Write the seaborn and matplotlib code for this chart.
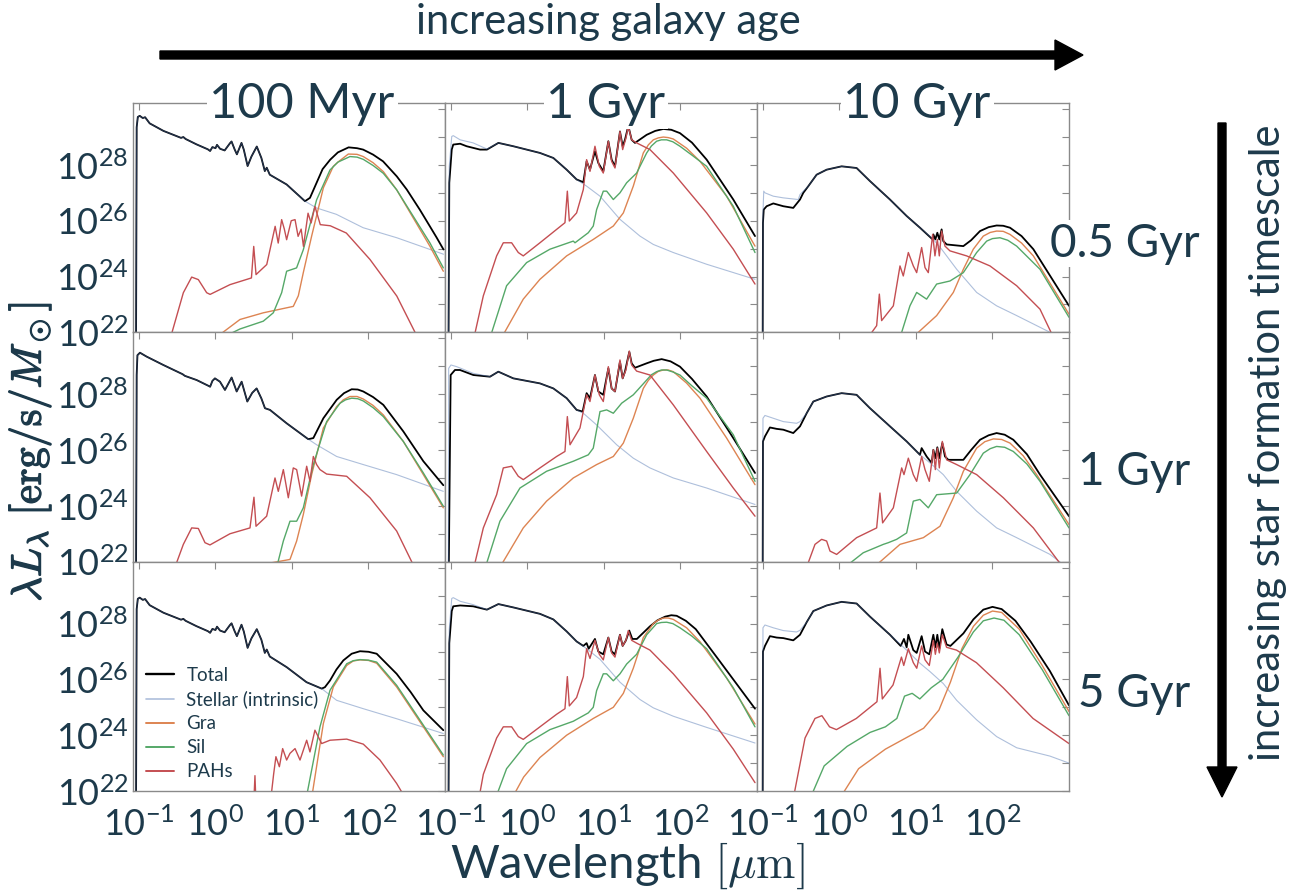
import numpy as np
import seaborn as sns
import matplotlib
matplotlib.use("Agg")
import matplotlib.pyplot as plt
from matplotlib.patches import FancyArrow
from matplotlib.lines import Line2D
from matplotlib.ticker import FixedLocator, FuncFormatter, LogLocator, NullFormatter, NullLocator
from matplotlib import patheffects

# Spectral energy distributions per unit stellar mass.
# Each curve: (log10 wavelength [um], log10 lambda*L_lambda [erg/s/Msun]).
# Rows: star formation timescale (t05 = 0.5 Gyr, t1 = 1 Gyr, t5 = 5 Gyr)
# Columns: galaxy age (a01 = 100 Myr, a1 = 1 Gyr, a10 = 10 Gyr)

AGES = ["100 Myr", "1 Gyr", "10 Gyr"]
TAUS = ["0.5 Gyr", "1 Gyr", "5 Gyr"]

# ---------------- tau = 0.5 Gyr, age = 100 Myr ----------------
stellar_t05_a01 = [(-1.04, 20.0), (-1.03, 29.35), (-1.015, 29.72), (-0.99, 29.76), (-0.95, 29.68), (-0.92, 29.71),
                   (-0.86, 29.49), (-0.68, 29.22), (-0.45, 28.97), (-0.42, 29.00), (-0.39, 28.93), (-0.25, 28.74),
                   (-0.10, 28.56), (-0.07, 28.50), (-0.04, 28.64), (0.00, 28.60), (0.02, 28.72), (0.06, 28.58),
                   (0.12, 28.52), (0.19, 28.78), (0.21, 28.84), (0.25, 28.56), (0.28, 28.38), (0.34, 28.79),
                   (0.37, 28.55), (0.42, 27.96), (0.47, 28.30), (0.54, 28.66), (0.60, 28.25), (0.645, 27.78),
                   (0.67, 27.90), (0.71, 27.65), (0.93, 27.30), (1.17, 26.70), (1.32, 26.46), (1.58, 26.23),
                   (1.93, 25.75), (2.37, 25.39), (2.98, 24.80)]
total_ir_t05_a01 = [(1.235, 26.82), (1.32, 27.35), (1.40, 27.85), (1.50, 28.19), (1.60, 28.45), (1.74, 28.63),
                    (1.85, 28.60), (1.93, 28.55), (2.06, 28.37), (2.19, 28.13), (2.37, 27.59), (2.50, 27.12),
                    (2.67, 26.40), (2.80, 25.81), (2.89, 25.40), (2.98, 24.97)]
gra_t05_a01 = [(0.0, 21.8), (0.32, 22.46), (0.625, 22.70), (1.017, 22.93), (1.083, 23.31), (1.148, 24.14),
               (1.257, 25.45), (1.41, 27.18), (1.54, 27.95), (1.60, 28.10), (1.736, 28.39), (1.85, 28.38),
               (1.932, 28.30), (2.06, 28.08), (2.194, 27.76), (2.368, 27.11), (2.804, 25.08), (2.978, 24.19)]
sil_t05_a01 = [(0.08, 21.8), (0.32, 22.12), (0.625, 22.40), (0.756, 22.70), (0.865, 23.42), (0.93, 24.19),
               (1.06, 24.31), (1.148, 24.96), (1.322, 26.75), (1.497, 27.82), (1.60, 28.10), (1.758, 28.30),
               (1.85, 28.28), (1.932, 28.20), (2.06, 27.98), (2.194, 27.70), (2.368, 27.11), (2.804, 25.20),
               (2.978, 24.31)]
pah_t05_a01 = [(-0.62, 21.5), (-0.42, 23.42), (-0.311, 23.98), (-0.224, 23.89), (-0.115, 23.42), (-0.07, 23.36),
               (0.19, 23.71), (0.47, 23.95), (0.50, 25.08), (0.53, 24.07), (0.67, 24.43), (0.78, 25.80),
               (0.82, 25.20), (0.865, 26.04), (0.90, 25.70), (0.93, 25.32), (0.99, 26.00), (1.04, 26.04),
               (1.08, 25.44), (1.12, 25.70), (1.15, 25.08), (1.21, 26.27), (1.25, 25.92), (1.30, 26.51),
               (1.37, 25.86), (1.50, 25.82), (1.71, 25.56), (2.02, 24.61), (2.37, 23.30), (2.70, 21.5)]

# ---------------- tau = 0.5 Gyr, age = 1 Gyr ----------------
stellar_t05_a1 = [(-1.035, 20.0), (-1.022, 27.95), (-0.99, 29.02), (-0.97, 29.05), (-0.88, 28.90), (-0.71, 28.79),
                  (-0.53, 28.57), (-0.38, 28.79), (-0.185, 28.67), (0.163, 28.43), (0.338, 28.25), (0.512, 27.83),
                  (0.642, 27.48), (0.773, 27.24), (0.948, 26.88), (1.209, 26.05), (1.47, 25.45), (1.645, 25.15),
                  (1.906, 24.86), (2.342, 24.44), (2.974, 23.90)]
total_t05_a1 = [(-1.035, 20.0), (-1.022, 27.36), (-0.99, 28.55), (-0.97, 28.73), (-0.88, 28.76), (-0.795, 28.67),
                (-0.62, 28.55), (-0.53, 28.55), (-0.38, 28.79), (-0.185, 28.67), (0.163, 28.43), (0.338, 28.25),
                (0.512, 27.83), (0.642, 27.48), (0.73, 27.38), (0.773, 28.13), (0.817, 27.83), (0.882, 28.49),
                (0.926, 28.07), (0.991, 27.77), (1.057, 28.85), (1.10, 28.19), (1.144, 27.95), (1.209, 29.20),
                (1.244, 28.67), (1.274, 28.90), (1.318, 29.40), (1.362, 28.90), (1.405, 28.79), (1.558, 29.08),
                (1.67, 29.22), (1.776, 29.29), (1.88, 29.26), (1.993, 29.14), (2.15, 28.80), (2.342, 28.19),
                (2.69, 26.76), (2.974, 25.45)]
gra_t05_a1 = [(-0.34, 21.8), (-0.055, 23.19), (0.163, 23.90), (0.512, 24.74), (0.86, 25.33), (1.122, 25.81),
              (1.253, 26.28), (1.383, 27.24), (1.514, 28.43), (1.58, 28.72), (1.645, 28.90), (1.71, 28.97),
              (1.776, 29.00), (1.84, 28.98), (1.906, 28.93), (2.08, 28.60), (2.255, 28.13), (2.603, 26.88),
              (2.974, 25.09)]
sil_t05_a1 = [(-0.49, 21.8), (-0.273, 23.67), (-0.011, 24.50), (0.294, 24.98), (0.599, 25.27), (0.621, 25.21),
              (0.795, 25.57), (0.86, 25.81), (0.904, 26.40), (0.991, 27.06), (1.035, 27.06), (1.122, 26.76),
              (1.209, 27.00), (1.296, 27.36), (1.427, 27.71), (1.558, 28.43), (1.62, 28.68), (1.688, 28.85),
              (1.75, 28.90), (1.819, 28.90), (1.90, 28.83), (1.993, 28.67), (2.15, 28.35), (2.342, 27.95),
              (2.69, 26.52), (2.974, 24.86)]
pah_t05_a1 = [(-0.70, 21.8), (-0.577, 23.31), (-0.403, 24.74), (-0.316, 25.21), (-0.207, 25.21), (-0.12, 24.86),
              (-0.055, 24.74), (0.163, 25.21), (0.381, 25.69), (0.49, 25.93), (0.521, 27.06), (0.547, 25.99),
              (0.642, 26.28), (0.73, 27.12), (0.773, 28.19), (0.817, 27.77), (0.882, 28.67), (0.939, 27.95),
              (0.991, 27.71), (1.057, 28.85), (1.10, 28.13), (1.144, 27.89), (1.209, 29.20), (1.244, 28.55),
              (1.287, 28.96), (1.318, 29.38), (1.362, 28.90), (1.427, 28.79), (1.601, 28.55), (1.906, 27.71),
              (2.342, 26.28), (2.69, 24.98), (2.974, 23.73)]

# ---------------- tau = 0.5 Gyr, age = 10 Gyr ----------------
stellar_t05_a10 = [(-1.005, 20.0), (-1.0, 26.28), (-0.99, 27.06), (-0.974, 27.00), (-0.865, 26.88), (-0.734, 26.82),
                   (-0.538, 26.76), (-0.516, 26.94), (-0.407, 27.24), (-0.299, 27.65), (-0.168, 27.83),
                   (0.028, 27.95), (0.224, 27.89), (0.399, 27.42), (0.66, 26.76), (0.878, 26.17), (1.052, 25.75),
                   (1.227, 25.33), (1.335, 24.98), (1.532, 24.26), (1.793, 23.43), (2.054, 22.95), (2.316, 22.60),
                   (2.752, 22.0), (2.9, 21.8)]
total_t05_a10 = [(-1.005, 20.0), (-1.0, 25.93), (-0.99, 26.40), (-0.952, 26.52), (-0.865, 26.62), (-0.734, 26.52),
                 (-0.604, 26.46), (-0.516, 26.76), (-0.473, 27.00), (-0.407, 27.24), (-0.299, 27.65),
                 (-0.168, 27.83), (0.028, 27.95), (0.224, 27.89), (0.399, 27.42), (0.66, 26.76), (0.878, 26.17),
                 (1.052, 25.75), (1.218, 25.33), (1.227, 25.51), (1.253, 25.33), (1.279, 25.57), (1.305, 25.33),
                 (1.335, 25.69), (1.357, 25.27), (1.401, 25.15), (1.619, 25.09), (1.72, 25.30), (1.837, 25.63),
                 (1.95, 25.77), (2.054, 25.83), (2.14, 25.82), (2.229, 25.75), (2.38, 25.45), (2.534, 24.98),
                 (3.0, 22.95)]
gra_t05_a10 = [(0.95, 21.8), (1.27, 22.60), (1.488, 23.43), (1.619, 24.26), (1.749, 24.98), (1.88, 25.45),
               (1.97, 25.58), (2.054, 25.63), (2.14, 25.62), (2.229, 25.51), (2.38, 25.20), (2.534, 24.74),
               (3.0, 22.65)]
sil_t05_a10 = [(0.79, 21.8), (0.921, 22.95), (1.009, 23.43), (1.139, 23.19), (1.27, 23.73), (1.444, 23.84),
               (1.619, 24.14), (1.793, 24.86), (1.924, 25.27), (2.0, 25.36), (2.098, 25.39), (2.20, 25.30),
               (2.316, 25.09), (2.621, 24.26), (3.0, 22.54)]
pah_t05_a10 = [(0.37, 21.8), (0.486, 22.24), (0.521, 23.37), (0.551, 22.42), (0.704, 22.95), (0.791, 24.38),
               (0.834, 24.02), (0.90, 24.86), (0.965, 24.38), (1.009, 24.14), (1.074, 25.04), (1.118, 24.32),
               (1.161, 24.14), (1.218, 25.51), (1.248, 24.74), (1.279, 25.33), (1.305, 24.74), (1.335, 25.63),
               (1.379, 25.09), (1.444, 24.92), (1.662, 24.74), (1.967, 24.38), (2.316, 23.67), (2.621, 22.83),
               (2.80, 21.8)]

# ---------------- tau = 1 Gyr, age = 100 Myr ----------------
stellar_t1_a01 = [(-1.04, 20.0), (-1.03, 28.69), (-1.02, 29.40), (-0.987, 29.49), (-0.90, 29.35), (-0.682, 29.05),
                  (-0.43, 28.72), (-0.40, 28.66), (-0.246, 28.51), (-0.09, 28.30), (-0.07, 28.27), (-0.04, 28.48),
                  (-0.007, 28.57), (0.059, 28.45), (0.124, 28.155), (0.211, 28.60), (0.277, 28.10), (0.342, 28.45),
                  (0.416, 27.74), (0.48, 28.05), (0.538, 28.21), (0.60, 27.85), (0.647, 27.50), (0.712, 27.44),
                  (0.93, 26.96), (1.213, 26.39), (1.322, 26.19), (1.584, 25.77), (1.932, 25.48), (2.368, 25.12),
                  (2.978, 24.52)]
total_ir_t1_a01 = [(1.279, 26.43), (1.41, 27.14), (1.584, 27.80), (1.68, 28.04), (1.78, 28.18), (1.86, 28.17),
                   (1.932, 28.10), (2.06, 27.90), (2.194, 27.62), (2.455, 26.67), (2.717, 25.60), (2.978, 24.74)]
gra_t1_a01 = [(0.712, 21.95), (0.974, 22.08), (1.061, 22.74), (1.148, 23.69), (1.257, 25.12), (1.41, 26.79),
              (1.584, 27.56), (1.67, 27.80), (1.758, 27.92), (1.85, 27.92), (1.932, 27.83), (2.06, 27.60),
              (2.194, 27.26), (2.455, 26.31), (2.717, 25.12), (2.978, 23.93)]
sil_t1_a01 = [(0.80, 21.8), (0.887, 22.74), (0.974, 23.45), (1.061, 23.45), (1.148, 23.93), (1.279, 25.48),
              (1.453, 27.02), (1.628, 27.68), (1.70, 27.80), (1.78, 27.86), (1.86, 27.84), (1.932, 27.76),
              (2.06, 27.52), (2.194, 27.20), (2.455, 26.31), (2.717, 25.18), (2.978, 23.99)]
pah_t1_a01 = [(-0.53, 21.8), (-0.42, 22.62), (-0.311, 23.21), (-0.224, 23.19), (-0.137, 22.68), (-0.072, 22.60),
              (0.189, 23.00), (0.451, 23.21), (0.503, 24.31), (0.53, 23.27), (0.669, 23.63), (0.778, 25.00),
              (0.821, 24.52), (0.887, 25.30), (0.952, 24.29), (1.017, 25.36), (1.061, 25.30), (1.126, 24.35),
              (1.192, 25.42), (1.235, 24.88), (1.279, 25.77), (1.322, 25.48), (1.366, 25.30), (1.453, 25.14),
              (1.715, 25.06), (2.02, 24.29), (2.368, 23.10), (2.60, 21.8)]

# ---------------- tau = 1 Gyr, age = 1 Gyr ----------------
stellar_t1_a1 = [(-1.035, 20.0), (-1.03, 28.93), (-1.0, 29.05), (-0.926, 28.99), (-0.708, 28.75), (-0.49, 28.63),
                 (-0.381, 28.81), (-0.185, 28.57), (0.163, 28.39), (0.338, 28.21), (0.512, 27.86), (0.642, 27.44),
                 (0.73, 27.32), (0.904, 26.90), (1.166, 26.19), (1.383, 25.71), (1.601, 25.36), (1.906, 25.00),
                 (2.342, 24.64), (2.974, 24.05)]
total_t1_a1 = [(-1.035, 20.0), (-1.004, 28.69), (-0.948, 28.87), (-0.882, 28.87), (-0.708, 28.69), (-0.49, 28.63),
               (-0.381, 28.81), (-0.185, 28.57), (0.163, 28.39), (0.338, 28.21), (0.512, 27.86), (0.642, 27.44),
               (0.721, 27.38), (0.773, 28.04), (0.817, 27.86), (0.882, 28.69), (0.926, 28.10), (0.991, 27.98),
               (1.057, 28.93), (1.10, 28.21), (1.144, 28.10), (1.209, 29.17), (1.244, 28.57), (1.274, 28.81),
               (1.331, 29.52), (1.362, 29.11), (1.405, 28.95), (1.558, 29.11), (1.65, 29.20), (1.754, 29.26),
               (1.87, 29.18), (1.993, 28.99), (2.15, 28.55), (2.342, 27.92), (2.69, 26.43), (2.974, 25.18)]
gra_t1_a1 = [(-0.36, 21.8), (-0.055, 23.21), (0.25, 24.17), (0.599, 25.00), (0.904, 25.48), (1.122, 25.77),
             (1.253, 26.25), (1.383, 27.14), (1.514, 28.21), (1.58, 28.50), (1.645, 28.69), (1.71, 28.82),
             (1.776, 28.87), (1.84, 28.87), (1.906, 28.81), (2.08, 28.40), (2.255, 27.86), (2.603, 26.43),
             (2.974, 24.76)]
sil_t1_a1 = [(-0.55, 21.8), (-0.36, 23.45), (-0.098, 24.64), (0.25, 25.24), (0.599, 25.60), (0.642, 25.65),
             (0.795, 25.83), (0.86, 26.07), (0.948, 27.38), (1.035, 27.44), (1.122, 27.32), (1.231, 27.68),
             (1.383, 27.98), (1.558, 28.51), (1.62, 28.70), (1.688, 28.81), (1.75, 28.87), (1.819, 28.87),
             (1.90, 28.80), (1.993, 28.69), (2.15, 28.30), (2.342, 27.86), (2.69, 26.55), (2.974, 24.88)]
pah_t1_a1 = [(-0.70, 21.8), (-0.577, 23.21), (-0.403, 24.40), (-0.316, 25.36), (-0.207, 25.42), (-0.12, 25.06),
             (-0.055, 24.94), (0.163, 25.36), (0.381, 25.77), (0.49, 25.95), (0.521, 27.20), (0.556, 26.19),
             (0.686, 26.79), (0.773, 27.98), (0.817, 27.74), (0.882, 28.69), (0.939, 27.98), (0.991, 27.74),
             (1.057, 28.99), (1.10, 28.21), (1.144, 28.10), (1.209, 29.23), (1.244, 28.57), (1.287, 28.87),
             (1.331, 29.55), (1.362, 29.05), (1.427, 28.83), (1.601, 28.69), (1.906, 27.62), (2.342, 25.95),
             (2.69, 24.64), (2.974, 23.63)]

# ---------------- tau = 1 Gyr, age = 10 Gyr ----------------
stellar_t1_a10 = [(-1.005, 20.0), (-1.0, 27.14), (-0.974, 27.24), (-0.865, 27.14), (-0.734, 27.02), (-0.56, 26.96),
                  (-0.516, 27.02), (-0.429, 27.32), (-0.342, 27.74), (-0.168, 27.92), (0.028, 28.04), (0.224, 27.98),
                  (0.399, 27.50), (0.66, 26.85), (0.878, 26.31), (1.052, 25.83), (1.183, 25.54), (1.357, 25.12),
                  (1.532, 24.52), (1.793, 23.81), (2.054, 23.21), (2.316, 22.86), (2.752, 22.26), (2.90, 21.95)]
total_t1_a10 = [(-1.005, 20.0), (-1.0, 26.31), (-0.974, 26.49), (-0.909, 26.81), (-0.821, 26.76), (-0.734, 26.73),
                (-0.604, 26.61), (-0.516, 26.85), (-0.429, 27.32), (-0.342, 27.74), (-0.168, 27.92), (0.028, 28.04),
                (0.224, 27.98), (0.399, 27.50), (0.66, 26.85), (0.878, 26.31), (1.052, 25.83), (1.074, 26.07),
                (1.139, 25.77), (1.205, 25.54), (1.227, 26.01), (1.253, 25.71), (1.279, 26.10), (1.305, 25.71),
                (1.344, 26.25), (1.379, 25.77), (1.423, 25.65), (1.619, 25.65), (1.72, 26.00), (1.837, 26.37),
                (1.95, 26.53), (2.054, 26.61), (2.16, 26.55), (2.272, 26.37), (2.45, 25.85), (2.621, 25.12),
                (3.0, 23.63)]
gra_t1_a10 = [(0.45, 21.8), (0.791, 22.62), (1.096, 22.86), (1.314, 23.27), (1.488, 24.29), (1.619, 25.24),
              (1.793, 26.07), (1.90, 26.30), (2.011, 26.40), (2.12, 26.38), (2.229, 26.25), (2.40, 25.80),
              (2.577, 25.12), (3.0, 23.33)]
sil_t1_a10 = [(0.07, 21.8), (0.311, 22.32), (0.573, 22.62), (0.638, 22.68), (0.747, 22.80), (0.878, 23.03),
              (0.965, 24.17), (1.052, 24.23), (1.161, 23.93), (1.27, 24.40), (1.532, 24.46), (1.706, 25.12),
              (1.88, 25.89), (1.97, 26.05), (2.054, 26.13), (2.16, 26.10), (2.272, 25.95), (2.45, 25.50),
              (2.621, 24.88), (3.0, 23.21)]
pah_t1_a10 = [(-0.43, 21.8), (-0.32, 22.62), (-0.233, 22.80), (-0.168, 22.74), (-0.124, 22.38), (-0.037, 22.26),
              (0.224, 22.86), (0.486, 23.21), (0.529, 24.46), (0.564, 23.39), (0.704, 23.93), (0.813, 25.36),
              (0.843, 25.12), (0.90, 25.71), (0.965, 25.12), (1.009, 24.88), (1.074, 25.77), (1.118, 25.30),
              (1.174, 24.88), (1.227, 26.01), (1.253, 25.30), (1.279, 26.07), (1.305, 25.36), (1.344, 26.31),
              (1.401, 25.65), (1.532, 25.48), (1.793, 25.12), (2.142, 24.29), (2.534, 23.21), (2.92, 21.8)]

# ---------------- tau = 5 Gyr, age = 100 Myr ----------------
stellar_t5_a01 = [(-1.04, 20.0), (-1.03, 28.52), (-1.015, 28.89), (-0.99, 28.93), (-0.95, 28.85), (-0.92, 28.88),
                  (-0.86, 28.66), (-0.68, 28.39), (-0.45, 28.14), (-0.42, 28.17), (-0.39, 28.10), (-0.25, 27.91),
                  (-0.10, 27.73), (-0.07, 27.67), (-0.04, 27.81), (0.00, 27.77), (0.02, 27.89), (0.06, 27.75),
                  (0.12, 27.69), (0.19, 27.95), (0.21, 28.01), (0.25, 27.73), (0.28, 27.55), (0.34, 27.96),
                  (0.37, 27.72), (0.42, 27.13), (0.47, 27.47), (0.54, 27.80), (0.60, 27.42), (0.645, 26.95),
                  (0.67, 27.07), (0.71, 26.82), (0.93, 26.44), (1.19, 25.90), (1.388, 25.67), (1.584, 25.25),
                  (1.932, 24.95), (2.368, 24.59), (2.978, 24.06)]
total_ir_t5_a01 = [(1.43, 25.72), (1.497, 25.96), (1.58, 26.35), (1.671, 26.68), (1.78, 26.92), (1.889, 27.01),
                   (2.0, 26.99), (2.107, 26.92), (2.368, 26.20), (2.55, 25.55), (2.717, 24.89), (2.978, 24.18)]
gra_t5_a01 = [(1.26, 21.8), (1.41, 24.42), (1.54, 25.73), (1.715, 26.50), (1.80, 26.66), (1.889, 26.70),
              (2.0, 26.68), (2.107, 26.58), (2.368, 25.73), (2.717, 24.30), (2.978, 23.23)]
sil_t5_a01 = [(1.19, 21.8), (1.366, 24.30), (1.497, 25.61), (1.715, 26.56), (1.80, 26.67), (1.889, 26.71),
              (2.0, 26.69), (2.107, 26.62), (2.368, 25.79), (2.717, 24.36), (2.978, 23.29)]
pah_t5_a01 = [(0.50, 21.5), (0.516, 22.55), (0.53, 21.5), (0.70, 21.8), (0.735, 22.0), (0.76, 22.6),
              (0.79, 23.23), (0.835, 22.87), (0.878, 23.52), (0.93, 23.11), (0.974, 23.35), (1.04, 23.52),
              (1.105, 23.11), (1.192, 23.82), (1.235, 23.40), (1.30, 24.18), (1.344, 23.94), (1.388, 23.70),
              (1.497, 23.82), (1.715, 23.86), (1.932, 23.68), (2.15, 23.11), (2.368, 22.27), (2.47, 21.8)]

# ---------------- tau = 5 Gyr, age = 1 Gyr ----------------
stellar_t5_a1 = [(-1.035, 20.0), (-1.022, 27.8), (-0.99, 28.90), (-0.97, 28.93), (-0.88, 28.80), (-0.71, 28.68),
                 (-0.53, 28.50), (-0.38, 28.70), (-0.185, 28.58), (0.163, 28.35), (0.338, 28.15), (0.512, 27.72),
                 (0.642, 27.36), (0.773, 27.10), (0.948, 26.72), (1.209, 25.90), (1.47, 25.28), (1.645, 24.98),
                 (1.906, 24.68), (2.342, 24.28), (2.974, 23.72)]
total_t5_a1 = [(-1.035, 20.0), (-1.022, 27.3), (-0.99, 28.45), (-0.97, 28.62), (-0.88, 28.65), (-0.71, 28.62),
               (-0.53, 28.50), (-0.38, 28.70), (-0.185, 28.58), (0.163, 28.35), (0.338, 28.15), (0.512, 27.72),
               (0.642, 27.36), (0.73, 27.20), (0.773, 27.30), (0.80, 27.10), (0.882, 27.45), (0.926, 27.00),
               (0.991, 26.90), (1.057, 27.50), (1.10, 27.00), (1.144, 26.90), (1.209, 27.60), (1.244, 27.20),
               (1.287, 27.40), (1.33, 27.75), (1.37, 27.45), (1.43, 27.45), (1.60, 27.90), (1.70, 28.12),
               (1.80, 28.25), (1.88, 28.30), (1.95, 28.28), (2.07, 28.10), (2.20, 27.80), (2.50, 26.70),
               (2.974, 24.95)]
gra_t5_a1 = [(-0.25, 21.5), (-0.05, 22.5), (0.163, 23.2), (0.512, 24.0), (0.86, 24.6), (1.122, 25.0),
             (1.253, 25.5), (1.383, 26.4), (1.514, 27.5), (1.645, 28.0), (1.71, 28.13), (1.776, 28.2),
             (1.84, 28.2), (1.906, 28.15), (2.08, 27.85), (2.255, 27.35), (2.603, 26.05), (2.974, 24.4)]
sil_t5_a1 = [(-0.45, 21.5), (-0.273, 22.8), (-0.011, 23.7), (0.294, 24.2), (0.599, 24.5), (0.795, 24.8),
             (0.86, 25.0), (0.904, 25.6), (0.991, 26.2), (1.035, 26.2), (1.122, 25.95), (1.209, 26.2),
             (1.296, 26.55), (1.427, 26.9), (1.558, 27.6), (1.688, 28.0), (1.75, 28.04), (1.819, 28.05),
             (1.90, 28.0), (1.993, 27.85), (2.15, 27.55), (2.342, 27.1), (2.69, 25.7), (2.974, 24.3)]
pah_t5_a1 = [(-0.65, 21.5), (-0.577, 22.6), (-0.403, 23.9), (-0.316, 24.3), (-0.207, 24.3), (-0.12, 23.95),
             (-0.055, 23.85), (0.163, 24.3), (0.381, 24.75), (0.49, 24.95), (0.521, 26.1), (0.547, 25.05),
             (0.642, 25.35), (0.73, 26.1), (0.773, 27.1), (0.817, 26.75), (0.882, 27.4), (0.939, 26.9),
             (0.991, 26.7), (1.057, 27.5), (1.10, 26.95), (1.144, 26.8), (1.209, 27.6), (1.244, 27.2),
             (1.287, 27.4), (1.318, 27.75), (1.362, 27.4), (1.427, 27.3), (1.601, 27.05), (1.906, 26.2),
             (2.342, 24.8), (2.69, 23.5), (2.974, 22.3)]

# ---------------- tau = 5 Gyr, age = 10 Gyr ----------------
stellar_t5_a10 = [(-1.005, 20.0), (-1.0, 27.85), (-0.974, 27.95), (-0.865, 27.85), (-0.734, 27.75), (-0.56, 27.70),
                  (-0.516, 27.76), (-0.429, 28.05), (-0.342, 28.45), (-0.168, 28.65), (0.028, 28.78), (0.224, 28.72),
                  (0.399, 28.25), (0.66, 27.60), (0.878, 27.05), (1.052, 26.58), (1.183, 26.28), (1.357, 25.85),
                  (1.532, 25.25), (1.793, 24.55), (2.054, 23.95), (2.316, 23.55), (2.752, 23.25), (3.0, 23.0)]
total_t5_a10 = [(-1.005, 20.0), (-1.0, 27.0), (-0.974, 27.2), (-0.909, 27.55), (-0.821, 27.5), (-0.734, 27.48),
                (-0.604, 27.40), (-0.516, 27.6), (-0.429, 28.05), (-0.342, 28.45), (-0.168, 28.65), (0.028, 28.78),
                (0.224, 28.72), (0.399, 28.25), (0.66, 27.60), (0.80, 27.20), (0.843, 27.45), (0.878, 27.15),
                (0.90, 27.6), (0.965, 27.05), (1.009, 26.95), (1.074, 27.55), (1.118, 27.0), (1.174, 26.9),
                (1.227, 27.6), (1.253, 27.15), (1.279, 27.6), (1.305, 27.1), (1.344, 27.8), (1.40, 27.25),
                (1.45, 27.2), (1.62, 27.65), (1.75, 28.15), (1.88, 28.50), (2.0, 28.60), (2.12, 28.52),
                (2.30, 28.10), (2.50, 27.35), (2.75, 26.30), (3.0, 25.07)]
gra_t5_a10 = [(-0.05, 21.5), (0.25, 22.8), (0.6, 23.5), (0.9, 23.95), (1.1, 24.25), (1.3, 24.9), (1.45, 25.9),
              (1.6, 27.1), (1.75, 27.9), (1.88, 28.30), (2.0, 28.45), (2.12, 28.40), (2.35, 27.8), (2.65, 26.5),
              (3.0, 24.85)]
sil_t5_a10 = [(-0.42, 21.5), (-0.2, 22.9), (0.1, 23.6), (0.4, 24.1), (0.6, 24.3), (0.75, 24.6), (0.85, 25.4),
              (0.95, 25.5), (1.05, 25.3), (1.2, 25.7), (1.35, 26.0), (1.55, 26.8), (1.75, 27.7), (1.88, 28.1),
              (2.02, 28.2), (2.15, 28.12), (2.35, 27.6), (2.65, 26.35), (3.0, 24.7)]
pah_t5_a10 = [(-0.62, 21.5), (-0.45, 23.9), (-0.32, 24.6), (-0.23, 24.7), (-0.13, 24.3), (-0.04, 24.2),
              (0.22, 24.6), (0.49, 25.2), (0.53, 26.4), (0.56, 25.3), (0.70, 25.8), (0.81, 26.8), (0.84, 26.5),
              (0.90, 27.1), (0.965, 26.6), (1.01, 26.4), (1.074, 27.2), (1.118, 26.7), (1.174, 26.5),
              (1.227, 27.4), (1.253, 26.9), (1.279, 27.3), (1.305, 26.95), (1.344, 27.6), (1.40, 27.15),
              (1.53, 27.05), (1.79, 26.6), (2.14, 25.7), (2.53, 24.6), (3.0, 23.7)]


def joined_total(stellar, ir):
    """Young populations: total follows the stellar curve until dust emission takes over."""
    start = ir[0][0]
    return [p for p in stellar if p[0] < start] + list(ir)


PANELS = {
    (0, 0): dict(total=joined_total(stellar_t05_a01, total_ir_t05_a01), stellar=stellar_t05_a01,
                 gra=gra_t05_a01, sil=sil_t05_a01, pah=pah_t05_a01),
    (0, 1): dict(total=total_t05_a1, stellar=stellar_t05_a1, gra=gra_t05_a1, sil=sil_t05_a1, pah=pah_t05_a1),
    (0, 2): dict(total=total_t05_a10, stellar=stellar_t05_a10, gra=gra_t05_a10, sil=sil_t05_a10, pah=pah_t05_a10),
    (1, 0): dict(total=joined_total(stellar_t1_a01, total_ir_t1_a01), stellar=stellar_t1_a01,
                 gra=gra_t1_a01, sil=sil_t1_a01, pah=pah_t1_a01),
    (1, 1): dict(total=total_t1_a1, stellar=stellar_t1_a1, gra=gra_t1_a1, sil=sil_t1_a1, pah=pah_t1_a1),
    (1, 2): dict(total=total_t1_a10, stellar=stellar_t1_a10, gra=gra_t1_a10, sil=sil_t1_a10, pah=pah_t1_a10),
    (2, 0): dict(total=joined_total(stellar_t5_a01, total_ir_t5_a01), stellar=stellar_t5_a01,
                 gra=gra_t5_a01, sil=sil_t5_a01, pah=pah_t5_a01),
    (2, 1): dict(total=total_t5_a1, stellar=stellar_t5_a1, gra=gra_t5_a1, sil=sil_t5_a1, pah=pah_t5_a1),
    (2, 2): dict(total=total_t5_a10, stellar=stellar_t5_a10, gra=gra_t5_a10, sil=sil_t5_a10, pah=pah_t5_a10),
}

# key, legend label, colour, line width, alpha (drawing order = legend order)
COMPONENTS = [
    ("total", "Total", "#000000", 1.3, 1.0),
    ("stellar", "Stellar (intrinsic)", "#4c72b0", 0.8, 0.45),
    ("gra", "Gra", "#dd8452", 1.0, 1.0),
    ("sil", "Sil", "#55a868", 1.0, 1.0),
    ("pah", "PAHs", "#c44e52", 1.0, 1.0),
]

TXT = "#1d3a4b"
GREY = "#8a8a8a"

sns.set_theme(style="white")
plt.rcParams["font.family"] = ["Lato", "DejaVu Sans"]

W, H = 1301, 891
fig, axes = plt.subplots(3, 3, figsize=(W / 100, H / 100), dpi=100, sharex=True, sharey=True,
                         gridspec_kw=dict(wspace=0, hspace=0))
fig.subplots_adjust(left=133 / W, right=1069 / W, top=1 - 103 / H, bottom=1 - 791 / H)

ax0 = axes[0, 0]
ax0.set_xscale("log")
ax0.set_yscale("log")
ax0.set_xlim(10 ** -1.078, 1e3)
ax0.set_ylim(1e22, 10 ** 30.22)


def pow_label(v, _pos):
    e = int(round(np.log10(v)))
    return r"$\mathregular{10^{%d}}$" % e


def pow_label_even(v, _pos):
    e = int(round(np.log10(v)))
    if e % 2 == 0 and e < 30:
        return r"$\mathregular{10^{%d}}$" % e
    return ""


ax0.xaxis.set_major_locator(FixedLocator([0.1, 1, 10, 100]))
ax0.xaxis.set_minor_locator(LogLocator(base=10, subs=np.arange(2, 10)))
ax0.xaxis.set_minor_formatter(NullFormatter())
ax0.xaxis.set_major_formatter(FuncFormatter(pow_label))
ax0.yaxis.set_major_locator(FixedLocator(10.0 ** np.arange(22, 31)))
ax0.yaxis.set_minor_locator(NullLocator())
ax0.yaxis.set_major_formatter(FuncFormatter(pow_label_even))

for (r, c), curves in PANELS.items():
    ax = axes[r, c]
    for key, label, color, lw, alpha in COMPONENTS:
        arr = np.asarray(curves[key], dtype=float)
        sns.lineplot(x=10 ** arr[:, 0], y=10 ** arr[:, 1], ax=ax, color=color, linewidth=lw, alpha=alpha,
                     sort=False, estimator=None, errorbar=None, legend=False)
    ax.set_xlabel("")
    ax.set_ylabel("")
    for s in ax.spines.values():
        s.set_color(GREY)
        s.set_linewidth(1.0)
    ax.tick_params(which="both", direction="in", top=True, right=True, color=GREY, width=0.8,
                   labelcolor=TXT, labelsize=26)
    ax.tick_params(which="major", length=5)
    ax.tick_params(which="minor", length=2.5)
    ax.tick_params(axis="x", which="major", pad=11)
    ax.tick_params(axis="y", which="major", pad=3)

# column headers (galaxy age) sitting on the top frame
col_x = [0.542, 0.516, 0.513]
for c, age in enumerate(AGES):
    axes[0, c].text(col_x[c], 1 - 15 / 229, age, transform=axes[0, c].transAxes, ha="center", va="baseline",
                    fontsize=35, color=TXT, zorder=10, clip_on=False,
                    bbox=dict(facecolor="white", edgecolor="none", pad=2))

# row headers (star formation timescale) sitting on the right frame
row_pos = [(1.18, 0.33), (1.21, 0.336), (1.21, 0.367)]
for r, tau in enumerate(TAUS):
    x, y = row_pos[r]
    axes[r, 2].text(x, y, tau, transform=axes[r, 2].transAxes, ha="center", va="baseline",
                    fontsize=33, color=TXT, zorder=10, clip_on=False,
                    bbox=dict(facecolor="white", edgecolor="none", pad=2))

# legend
handles = [Line2D([], [], color=col, lw=lw + 0.4, alpha=a) for _, _, col, lw, a in COMPONENTS]
leg = axes[2, 0].legend(handles, [lab for _, lab, *_ in COMPONENTS], loc="upper left",
                        bbox_to_anchor=(0.0, 0.6), frameon=False, fontsize=13.5, handlelength=1.5,
                        handletextpad=0.65, labelspacing=0.37, borderaxespad=0.3)
for t in leg.get_texts():
    t.set_color(TXT)

# axis titles
fig.text(627 / W, 1 - 878 / H, r"Wavelength $[\mu\mathrm{m}]$", ha="center", va="baseline", fontsize=34,
         color=TXT, math_fontfamily="cm")
ylab = fig.text(30 / W, 1 - 452 / H, r"$\lambda L_\lambda\ [\mathrm{erg/s}/M_\odot]$", ha="center",
                va="center", rotation=90, fontsize=30.5, color=TXT, math_fontfamily="cm")
ylab.set_path_effects([patheffects.withStroke(linewidth=1.0, foreground=TXT)])

# direction arrows
fig.add_artist(FancyArrow(1.60, (H - 55) / 100, 9.23, 0, width=0.08, head_width=0.30, head_length=0.28,
                          length_includes_head=True, color="black", transform=fig.dpi_scale_trans))
fig.add_artist(FancyArrow(12.22, (H - 123) / 100, 0, -6.74, width=0.08, head_width=0.30, head_length=0.30,
                          length_includes_head=True, color="black", transform=fig.dpi_scale_trans))
fig.text(608 / W, 1 - 22 / H, "increasing galaxy age", ha="center", va="center", fontsize=30, color=TXT)
fig.text(1268 / W, 1 - 443 / H, "increasing star formation timescale", ha="center", va="center",
         rotation=90, fontsize=30, color=TXT)

fig.savefig("out.png", dpi=100)
